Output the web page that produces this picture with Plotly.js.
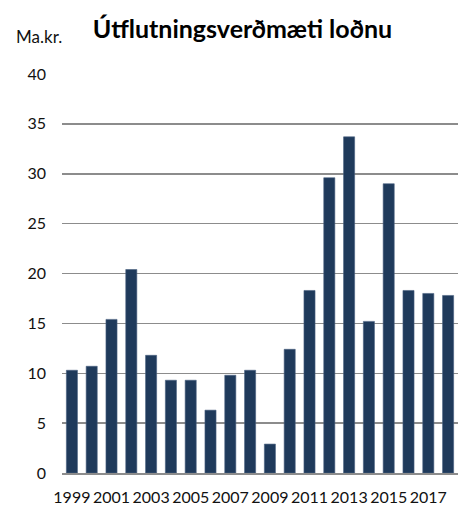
<!DOCTYPE html>
<html>
<head>
<meta charset="utf-8">
<script src="https://cdn.plot.ly/plotly-3.0.1.min.js"></script>
<style>html,body{margin:0;padding:0;background:#fff;}#chart{width:458px;height:505px;}</style>
</head>
<body>
<div id="chart"></div>
<script>
const years = [1999,2000,2001,2002,2003,2004,2005,2006,2007,2008,2009,2010,2011,2012,2013,2014,2015,2016,2017,2018];
const values = [10.3,10.7,15.4,20.4,11.8,9.3,9.3,6.3,9.8,10.3,2.9,12.4,18.3,29.6,33.7,15.2,29.0,18.3,18.0,17.8];
const tickYears = [1999,2001,2003,2005,2007,2009,2011,2013,2015,2017];
const yTicks = [0,5,10,15,20,25,30,35,40];
const titleText = 'Útflutningsverðmæti loðnu';
const unitText = 'Ma.kr.';

const trace = {
  type: 'bar',
  x: years,
  y: values,
  marker: {color: '#1f3a5b', line: {color: '#4a6282', width: 0.6}},
  hoverinfo: 'x+y'
};

const layout = {
  width: 458, height: 505,
  margin: {l: 62, r: 0, t: 74, b: 32, pad: 0},
  paper_bgcolor: '#fff', plot_bgcolor: '#fff',
  bargap: 0.44,
  showlegend: false,
  font: {family: 'Lato, sans-serif', size: 16, color: '#111'},
  title: {
    text: '<b>' + titleText + '</b>',
    font: {family: 'Lato, sans-serif', size: 25, color: '#000'},
    xref: 'container', yref: 'container',
    x: 242.5/458, xanchor: 'center',
    y: 1 - 29/505, yanchor: 'middle'
  },
  annotations: [{
    text: unitText, xref: 'paper', yref: 'paper',
    x: -0.12, xanchor: 'left', y: 1.095, yanchor: 'middle',
    showarrow: false, font: {family: 'Lato, sans-serif', size: 17, color: '#111'}
  }],
  xaxis: {
    range: [1998.5, 2018.5],
    tickmode: 'array', tickvals: tickYears, ticktext: tickYears.map(String),
    showgrid: false, zeroline: false,
    showline: true, linecolor: '#8c8c8c', linewidth: 1.5,
    ticks: '', ticklabelstandoff: 9,
    tickfont: {family: 'Lato, sans-serif', size: 16, color: '#111'}
  },
  yaxis: {
    range: [0, 40],
    tickmode: 'array', tickvals: yTicks, ticktext: yTicks.map(String),
    showgrid: true, gridcolor: '#8c8c8c', gridwidth: 1.5,
    zeroline: false, showline: false, ticks: '',
    ticklabelstandoff: 15,
    tickfont: {family: 'Lato, sans-serif', size: 16, color: '#111'}
  }
};

Plotly.newPlot('chart', [trace], layout, {displayModeBar: false, staticPlot: true});
</script>
</body>
</html>
